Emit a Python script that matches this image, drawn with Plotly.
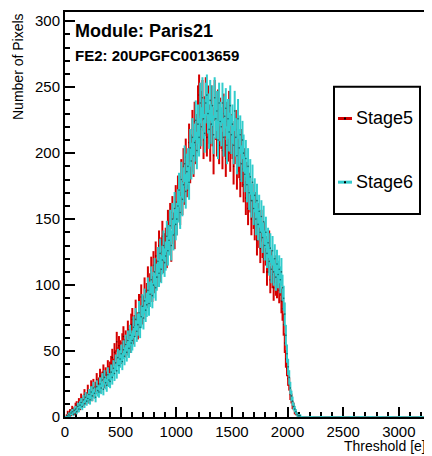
import numpy as np
import plotly.graph_objects as go

# ---------------- data ----------------
bin_width = 10          # e per bin
x_max = 3280            # histogram upper edge [e]

# Stage5 counts, bins of 10 e starting at 0 e (one row = 100 e)
stage5_counts = [
    0, 1, 3, 1, 4, 2, 6, 5, 3, 8,
    9, 6, 11, 8, 14, 10, 12, 17, 13, 15,
    20, 14, 17, 23, 16, 24, 19, 22, 28, 21,
    25, 31, 23, 29, 34, 27, 32, 29, 37, 33,
    36, 40, 45, 38, 49, 44, 57, 46, 54, 51,
    47, 56, 61, 52, 58, 54, 65, 59, 56, 70,
    74, 63, 69, 80, 71, 67, 84, 76, 91, 79,
    83, 96, 87, 92, 104, 90, 99, 111, 97, 115,
    104, 122, 109, 116, 130, 113, 125, 137, 120, 128,
    132, 124, 145, 136, 150, 129, 155, 143, 139, 163,
    150, 170, 161, 158, 182, 166, 190, 174, 197, 180,
    185, 208, 191, 200, 218, 196, 224, 206, 215, 236,
    244, 218, 232, 240, 210, 228, 242, 212, 236, 222,
    208, 236, 220, 198, 240, 225, 212, 233, 206, 227,
    218, 202, 230, 212, 196, 224, 208, 232, 200, 215,
    210, 190, 206, 218, 186, 200, 195, 180, 204, 188,
    176, 190, 166, 180, 158, 172, 168, 150, 164, 155,
    146, 158, 134, 150, 140, 128, 145, 132, 120, 136,
    126, 110, 120, 130, 104, 116, 108, 98, 112, 102,
    100, 108, 96, 102, 88, 82, 70, 56, 44, 37,
    29, 25, 17, 14, 9, 8, 4, 3, 2, 1,
    1, 0, 0, 0, 0,
]

# Stage6 counts, same binning
stage6_counts = [
    0, 0, 1, 2, 1, 3, 4, 2, 5, 6,
    4, 8, 6, 9, 11, 8, 13, 10, 15, 12,
    14, 17, 13, 19, 16, 22, 18, 15, 23, 20,
    19, 25, 22, 28, 21, 30, 26, 24, 32, 28,
    27, 34, 30, 37, 33, 41, 35, 45, 39, 44,
    48, 42, 51, 46, 55, 49, 58, 52, 62, 56,
    58, 68, 61, 74, 65, 70, 79, 68, 76, 84,
    75, 88, 81, 85, 96, 86, 93, 104, 92, 100,
    110, 98, 106, 118, 109, 124, 112, 119, 130, 117,
    122, 137, 126, 134, 145, 130, 150, 138, 158, 146,
    150, 160, 172, 155, 180, 165, 176, 192, 171, 186,
    190, 178, 204, 194, 212, 198, 208, 225, 202, 222,
    212, 238, 220, 242, 226, 215, 238, 244, 230, 218,
    240, 222, 236, 214, 242, 226, 232, 210, 238, 224,
    220, 238, 212, 228, 234, 206, 226, 216, 236, 214,
    222, 206, 232, 212, 198, 226, 204, 214, 192, 210,
    200, 184, 196, 176, 190, 170, 182, 164, 178, 158,
    168, 150, 164, 146, 156, 140, 152, 136, 148, 130,
    140, 124, 132, 118, 128, 112, 126, 110, 120, 106,
    116, 108, 112, 104, 110, 98, 90, 78, 62, 48,
    38, 30, 22, 16, 12, 8, 6, 4, 2, 1,
    1, 1, 0, 0, 0,
]

series_names = ["Stage5", "Stage6"]
title_text = "Module: Paris21"
subtitle_text = "FE2: 20UPGFC0013659"
x_title = "Threshold [e]"
y_title = "Number of Pixels"

# ---------------- styling ----------------
RED = "#d40000"
CYAN = "#33cccc"
FONT = "Liberation Sans, Arial, Helvetica, sans-serif"

n_bins = x_max // bin_width
centers = np.arange(n_bins) * bin_width + bin_width / 2.0


def full(counts):
    c = np.zeros(n_bins)
    c[: len(counts)] = counts
    return c


fig = go.Figure()
for name, counts, col in [(series_names[0], stage5_counts, RED),
                          (series_names[1], stage6_counts, CYAN)]:
    y = full(counts)
    err = np.sqrt(y)
    msize = np.where(y > 0, 1.6, 0)
    fig.add_trace(go.Scatter(
        x=centers, y=y, name=name, mode="markers",
        marker=dict(color="black", size=msize, opacity=0.5,
                    line=dict(width=0)),
        error_y=dict(type="data", array=err, visible=True, color=col,
                     thickness=2, width=0),
        error_x=dict(type="constant", value=bin_width / 2.0, visible=True,
                     color=col, thickness=2, width=0),
        cliponaxis=False, showlegend=False,
    ))

axis_common = dict(
    showline=True, linecolor="black", linewidth=2, mirror=True,
    ticks="inside", ticklen=10, tickwidth=1.5, tickcolor="black",
    showgrid=False, zeroline=False,
    tickfont=dict(family=FONT, size=15, color="black"),
    layer="below traces",
)
fig.update_xaxes(range=[0, x_max], tick0=0, dtick=500,
                 minor=dict(ticks="inside", ticklen=5, dtick=100,
                            tickwidth=1.5, tickcolor="black"),
                 **axis_common)
fig.update_yaxes(range=[0, 307], tick0=0, dtick=50,
                 minor=dict(ticks="inside", ticklen=5, dtick=10,
                            tickwidth=1.5, tickcolor="black"),
                 **axis_common)

# the page adds an 8 px body margin; positions below are in screen pixels
OFF = 8
W, H = 432, 456
L, R, T, B = 65 - OFF, W - (430 - OFF), 10 - OFF, H - (417 - OFF)
pw, ph = W - L - R, H - T - B


def px(xs):
    return (xs - OFF - L) / pw


def py(ys):
    return (H - B - (ys - OFF)) / ph


annotations = [
    dict(text=f"<b>{title_text}</b>", x=px(73), y=py(29), xanchor="left",
         yanchor="middle", font=dict(family=FONT, size=18, color="black")),
    dict(text=f"<b>{subtitle_text}</b>", x=px(73), y=py(54), xanchor="left",
         yanchor="middle", font=dict(family=FONT, size=15, color="black")),
    dict(text=y_title, x=px(17.5), y=py(9), xanchor="center", yanchor="top",
         textangle=-90, font=dict(family=FONT, size=14, color="black")),
    dict(text=x_title, x=px(427), y=py(446.5), xanchor="right",
         yanchor="middle", font=dict(family=FONT, size=14, color="black"),
         borderpad=0),
    dict(text=series_names[0], x=px(354), y=py(117), xanchor="left",
         yanchor="middle", font=dict(family=FONT, size=18, color="black")),
    dict(text=series_names[1], x=px(354), y=py(181), xanchor="left",
         yanchor="middle", font=dict(family=FONT, size=18, color="black")),
]
for a in annotations:
    a.update(xref="paper", yref="paper", showarrow=False)

shapes = [
    dict(type="rect", x0=px(334), x1=px(420), y0=py(213), y1=py(85),
         line=dict(color="black", width=2), fillcolor="white"),
]
for yy, col in [(117, RED), (181, CYAN)]:
    shapes.append(dict(type="line", x0=px(338), x1=px(352), y0=py(yy),
                       y1=py(yy), line=dict(color=col, width=3)))
    shapes.append(dict(type="rect", x0=px(344), x1=px(346), y0=py(yy + 1),
                       y1=py(yy - 1), line=dict(width=0), fillcolor="black"))
for s in shapes:
    s.update(xref="paper", yref="paper")

fig.update_layout(
    width=W, height=H, margin=dict(l=L, r=R, t=T, b=B, pad=0),
    plot_bgcolor="white", paper_bgcolor="white",
    font=dict(family=FONT, color="black"),
    annotations=annotations, shapes=shapes, showlegend=False,
)

fig.write_html("out.html")
